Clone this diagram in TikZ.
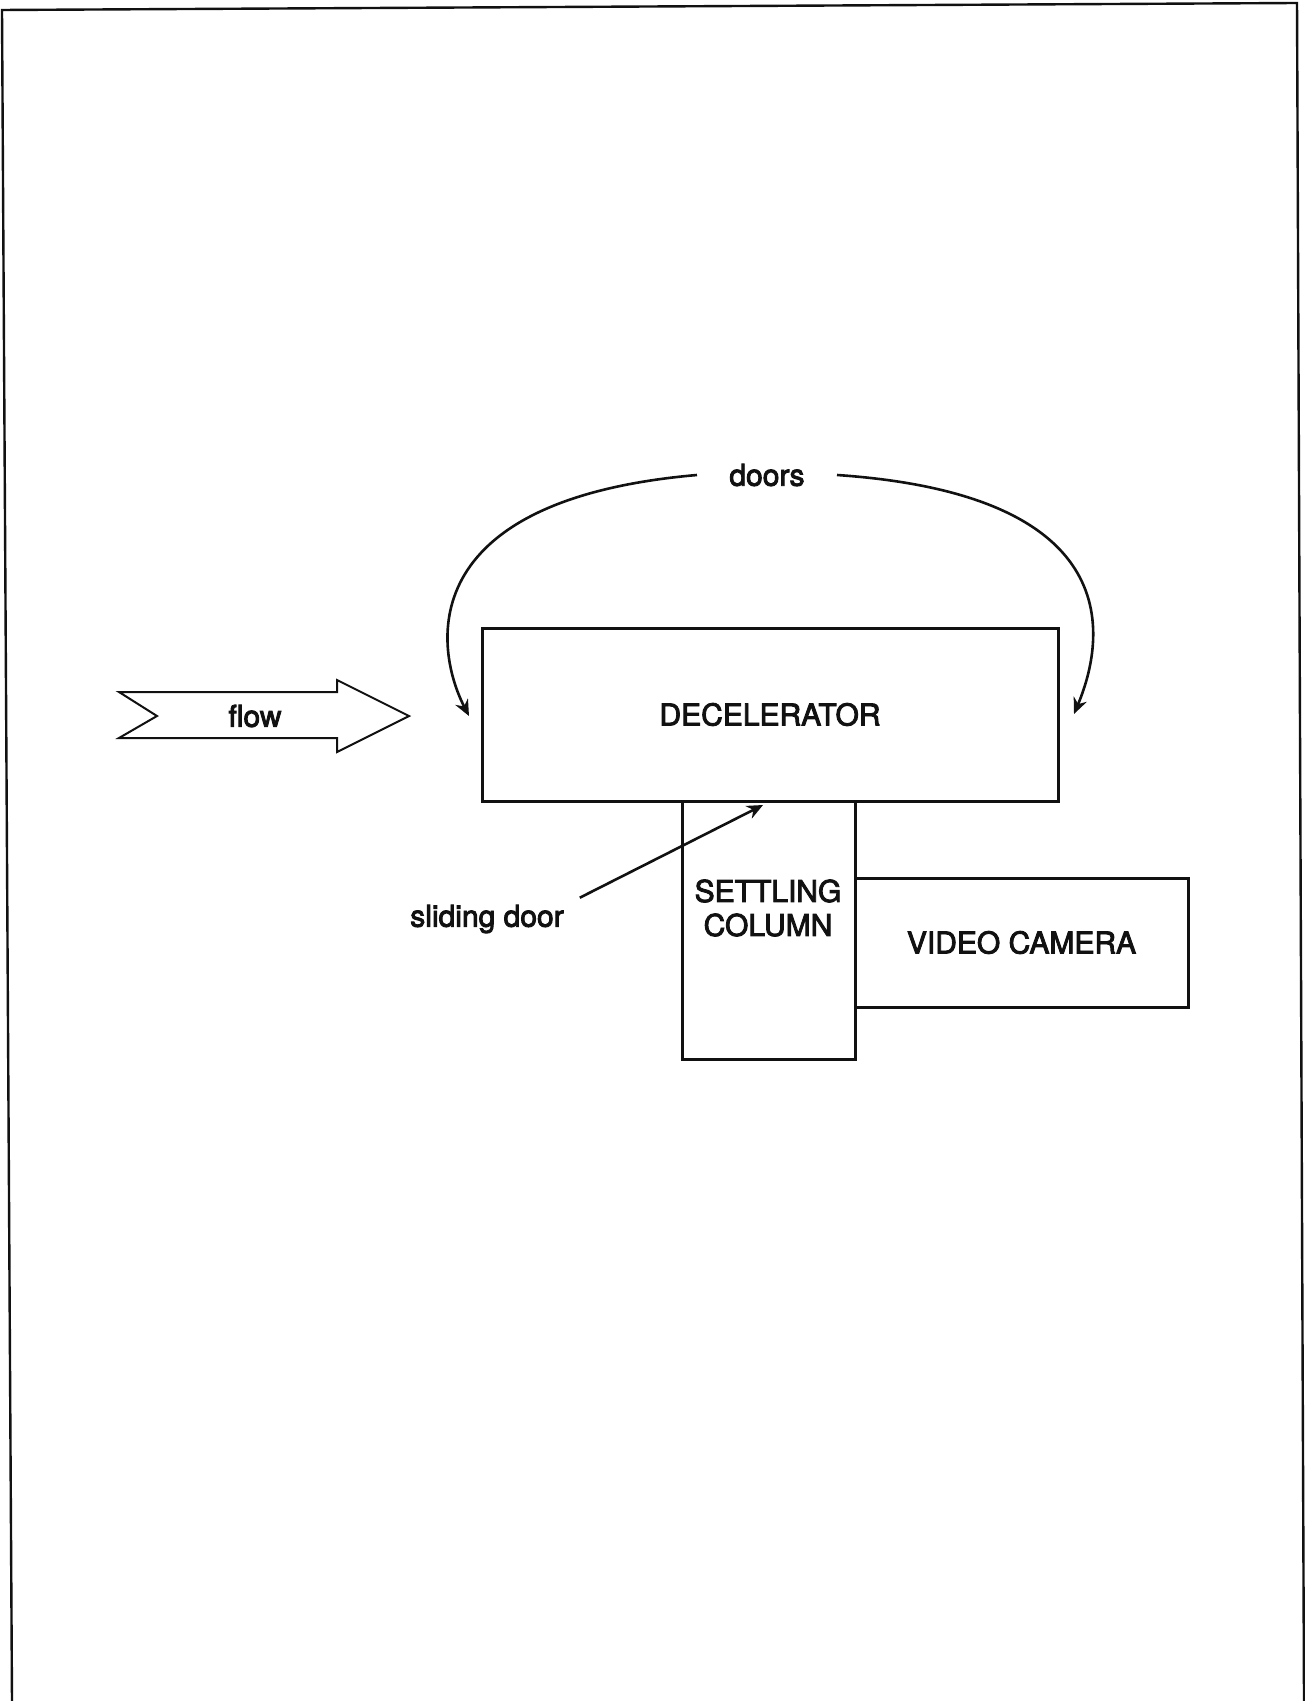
\documentclass[tikz,border=0pt]{standalone}
\usepackage{fontspec}
\setmainfont{TeX Gyre Heros}[FakeBold=3]
\usepackage{tikz}
\usetikzlibrary{positioning, arrows.meta, calc}
\usepackage{xcolor}
\definecolor{Ink}{HTML}{111111}

\tikzset{
    part/.style={draw=Ink, line width=1.5pt, inner sep=0pt},
    tag/.style={font=\fontsize{15}{17}\selectfont, text=Ink},
    pointer/.style={draw=Ink, line width=1.3pt, -{Stealth[length=8pt, width=7pt]}},
}

\begin{document}
\begin{tikzpicture}[x=0.5pt, y=-0.5pt]
            \useasboundingbox (0,0) rectangle (1305,1701);
            \draw[Ink, line width=1.2pt] (12,1701) -- (2,10) -- (1297,3) -- (1304,1701);

            \node[part, tag, minimum width=288pt, minimum height=86.5pt]
                (decel) at (770,714.5) {DECELERATOR};
            \node[part, minimum width=86.5pt, minimum height=129pt]
                (column) at (768.5,930) {};
            \node[tag, align=center] (columntext) at (768,908) {SETTLING\\COLUMN};
            \node[part, tag, minimum width=166.5pt, minimum height=64.5pt]
                (camera) at (1021.5,942.5) {VIDEO CAMERA};

            \draw[Ink, line width=1pt, line join=miter]
                (119,692) -- (337,692) -- (337,680) -- (409,716) -- (337,752)
                -- (337,738) -- (119,738) -- (157,716) -- cycle;
            \node[tag] (flow) at (255,716) {flow};

            \node[tag, inner xsep=16pt] (doors) at (767,475) {doors};
            \coordinate (lefttip) at (469,716);
            \coordinate (righttip) at (1074,714);
            \draw[pointer] (doors.west) .. controls (410,500) and (435,650) .. (lefttip);
            \draw[pointer] (doors.east) .. controls (1130,495) and (1105,640) .. (righttip);

            \node[tag] (slide) at (487,919) {sliding door};
            \coordinate (doortip) at (763,805);
            \draw[pointer] ([xshift=4.5pt]slide.north east) -- (doortip);
\end{tikzpicture}
\end{document}
